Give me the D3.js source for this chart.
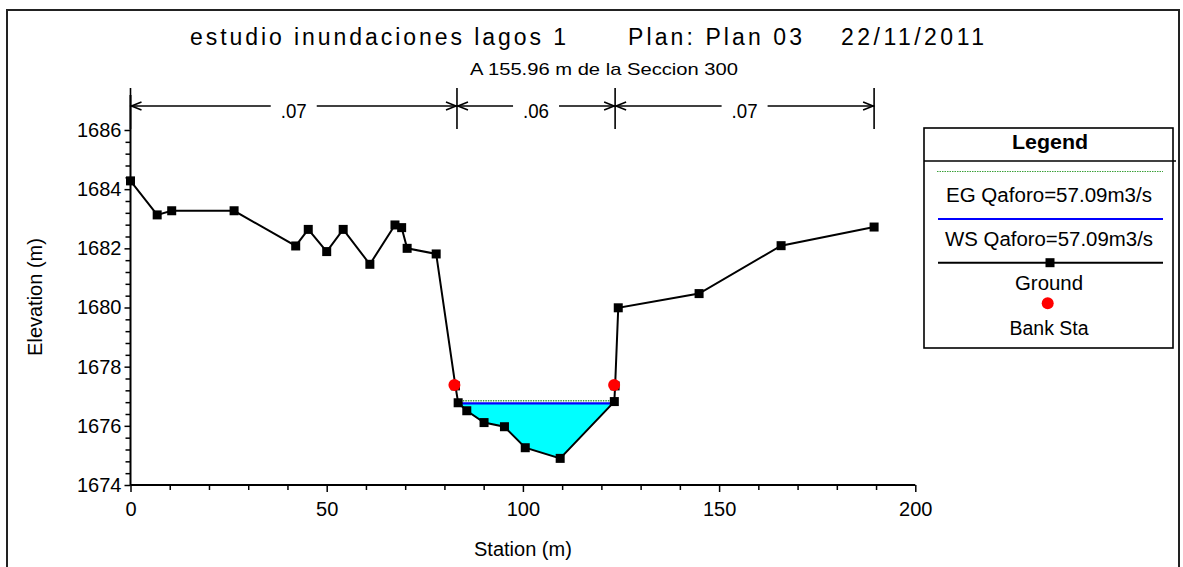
<!DOCTYPE html>
<html>
<head>
<meta charset="utf-8">
<script src="https://cdn.jsdelivr.net/npm/d3@7"></script>
<style>
  html, body { margin: 0; padding: 0; background: #fff; }
  svg { display: block; font-family: "Liberation Sans", Arial, sans-serif; }
</style>
</head>
<body>
<svg id="chart" width="1183" height="567"></svg>
<script>
// Cross-section ground profile (station m, elevation m)
const stations   = [0, 6.8, 10.5, 26.4, 42.1, 45.3, 50.0, 54.2, 61.0, 67.4, 69.1, 70.5, 77.9,
                    82.8, 83.5, 85.7, 90.1, 95.3, 100.6, 109.5, 123.3, 123.5, 124.3, 144.9, 165.8, 189.5];
const elevations = [1684.28, 1683.13, 1683.27, 1683.27, 1682.08, 1682.64, 1681.89, 1682.64, 1681.46,
                    1682.79, 1682.70, 1682.00, 1681.81, 1677.35, 1676.78, 1676.51, 1676.11, 1675.97,
                    1675.26, 1674.90, 1676.82, 1677.35, 1679.99, 1680.47, 1682.09, 1682.72];

// Bank stations
const bankStations = [82.8, 123.5];

// Water surface and energy grade for the profile
const wsElevation = 1676.76;
const egElevation = 1676.85;

// Manning's n regions
const nBreaks = [0, 83.2, 123.5, 189.5];
const nValues = [".07", ".06", ".07"];

// Axis ticks
const xTicks = [0, 50, 100, 150, 200];
const yTicks = [1674, 1676, 1678, 1680, 1682, 1684, 1686];

// Text
const titleParts = ["estudio inundaciones lagos 1", "Plan: Plan 03", "22/11/2011"];
const subtitle = "A 155.96 m de la Seccion 300";
const xTitle = "Station (m)";
const yTitle = "Elevation (m)";
const legendTitle = "Legend";
const legendLabels = ["EG Qaforo=57.09m3/s", "WS Qaforo=57.09m3/s", "Ground", "Bank Sta"];

const svg = d3.select("#chart");

const x = d3.scaleLinear().domain([0, 200]).range([130.5, 915.3]);
const y = d3.scaleLinear().domain([1674, 1686]).range([485, 130]);

// outer frame
const frame = svg.append("g").attr("stroke", "#222").attr("stroke-width", 2).attr("fill", "none");
frame.append("path").attr("d", "M7,567V10H1179V567");

// titles
const titleBox = [[190, 566], [628, 802], [841, 984]];
titleParts.forEach((t, i) => {
  svg.append("text")
    .attr("x", titleBox[i][0]).attr("y", 45)
    .attr("font-size", 23)
    .attr("textLength", titleBox[i][1] - titleBox[i][0])
    .attr("lengthAdjust", "spacing")
    .attr("fill", "#000")
    .text(t);
});
svg.append("text")
  .attr("x", 470).attr("y", 75)
  .attr("font-size", 17)
  .attr("textLength", 268)
  .attr("lengthAdjust", "spacingAndGlyphs")
  .text(subtitle);

// axes
const axisColor = "#000";
const yMinor = d3.range(0, 30).map(k => 1674 + k * 0.4).filter(v => v <= 1686.01 && !yTicks.some(t => Math.abs(t - v) < 1e-6));
const xMinor = d3.range(0, 21).map(k => k * 10).filter(v => !xTicks.includes(v));

const gy = svg.append("g").attr("transform", `translate(${x(0)},0)`);
gy.call(d3.axisLeft(y).tickValues(yTicks).tickSize(6).tickPadding(3).tickFormat(d3.format("d")));
gy.select(".domain").remove();
gy.selectAll(".tick line").attr("stroke", axisColor).attr("stroke-width", 1.5);
gy.selectAll(".tick text").attr("font-size", 20).attr("font-family", "Liberation Sans, Arial, sans-serif").attr("fill", "#000");
const gyMinor = svg.append("g").attr("transform", `translate(${x(0)},0)`);
gyMinor.call(d3.axisLeft(y).tickValues(yMinor).tickSize(5).tickFormat(""));
gyMinor.select(".domain").remove();
gyMinor.selectAll(".tick line").attr("stroke", axisColor).attr("stroke-width", 1.5);

const gx = svg.append("g").attr("transform", `translate(0,${y(1674)})`);
gx.call(d3.axisBottom(x).tickValues(xTicks).tickSize(7).tickPadding(10).tickFormat(d3.format("d")));
gx.select(".domain").remove();
gx.selectAll(".tick line").attr("stroke", axisColor).attr("stroke-width", 1.5);
gx.selectAll(".tick text").attr("font-size", 20).attr("font-family", "Liberation Sans, Arial, sans-serif").attr("fill", "#000");
const gxMinor = svg.append("g").attr("transform", `translate(0,${y(1674)})`);
gxMinor.call(d3.axisBottom(x).tickValues(xMinor).tickSize(5).tickFormat(""));
gxMinor.select(".domain").remove();
gxMinor.selectAll(".tick line").attr("stroke", axisColor).attr("stroke-width", 1.5);

// axis lines
svg.append("line").attr("x1", x(0)).attr("x2", x(0)).attr("y1", 95).attr("y2", y(1674))
  .attr("stroke", axisColor).attr("stroke-width", 2);
svg.append("line").attr("x1", x(0)).attr("x2", x(200)).attr("y1", y(1674)).attr("y2", y(1674))
  .attr("stroke", axisColor).attr("stroke-width", 2);

// axis titles
svg.append("text").attr("x", (x(0) + x(200)) / 2).attr("y", 556)
  .attr("text-anchor", "middle").attr("font-size", 20).text(xTitle);
svg.append("text").attr("transform", "translate(42,297) rotate(-90)")
  .attr("text-anchor", "middle").attr("font-size", 20).text(yTitle);

// Manning's n region markers
const nY = 106;
const nG = svg.append("g").attr("stroke", "#000").attr("stroke-width", 1.6).attr("fill", "none");
nBreaks.forEach(s => {
  nG.append("line").attr("x1", x(s)).attr("x2", x(s)).attr("y1", 88).attr("y2", 129);
});
nValues.forEach((label, i) => {
  const a = x(nBreaks[i]), b = x(nBreaks[i + 1]), m = (a + b) / 2;
  const t = svg.append("text").attr("x", m).attr("y", 118).attr("text-anchor", "middle")
    .attr("font-size", 20).attr("textLength", 26).attr("lengthAdjust", "spacingAndGlyphs").text(label);
  const half = 13 + 10;
  nG.append("line").attr("x1", a).attr("x2", m - half).attr("y1", nY).attr("y2", nY);
  nG.append("line").attr("x1", m + half).attr("x2", b).attr("y1", nY).attr("y2", nY);
  nG.append("path").attr("d", `M${a + 11},${nY - 4}L${a + 1},${nY}L${a + 11},${nY + 4}`);
  nG.append("path").attr("d", `M${b - 11},${nY - 4}L${b - 1},${nY}L${b - 11},${nY + 4}`);
});

// wetted area below the water surface
function wetPolygon(sta, elev, ws) {
  const iMin = d3.minIndex(elev);
  let L = iMin; while (L > 0 && elev[L - 1] < ws) L--;
  let R = iMin; while (R < sta.length - 1 && elev[R + 1] < ws) R++;
  const cross = (i, j) => sta[i] + (ws - elev[i]) / (elev[j] - elev[i]) * (sta[j] - sta[i]);
  const pts = [[cross(L - 1, L), ws]];
  for (let k = L; k <= R; k++) pts.push([sta[k], elev[k]]);
  pts.push([cross(R, R + 1), ws]);
  return pts;
}
const wet = wetPolygon(stations, elevations, wsElevation);
svg.append("path")
  .attr("d", d3.line().x(d => x(d[0])).y(d => y(d[1]))(wet) + "Z")
  .attr("fill", "#00FFFF").attr("stroke", "none");

// energy grade line
const egPts = wetPolygon(stations, elevations, egElevation);
svg.append("line")
  .attr("x1", x(egPts[0][0])).attr("x2", x(egPts[egPts.length - 1][0]))
  .attr("y1", y(egElevation)).attr("y2", y(egElevation))
  .attr("stroke", "#3aa03a").attr("stroke-width", 1.5).attr("stroke-dasharray", "1.5,1");

// water surface line
svg.append("line")
  .attr("x1", x(wet[0][0])).attr("x2", x(wet[wet.length - 1][0]))
  .attr("y1", y(wsElevation)).attr("y2", y(wsElevation))
  .attr("stroke", "#0000FF").attr("stroke-width", 2.2);

// ground line with markers
const ground = stations.map((s, i) => [s, elevations[i]]);
svg.append("path")
  .attr("d", d3.line().x(d => x(d[0])).y(d => y(d[1]))(ground))
  .attr("fill", "none").attr("stroke", "#000").attr("stroke-width", 2);
svg.append("g").selectAll("rect").data(ground).join("rect")
  .attr("x", d => x(d[0]) - 4.5).attr("y", d => y(d[1]) - 4.5)
  .attr("width", 9).attr("height", 9).attr("fill", "#000");

// bank stations
const bankPts = bankStations.map(s => [s, elevations[stations.indexOf(s)]]);
svg.append("g").selectAll("circle").data(bankPts).join("circle")
  .attr("cx", d => x(d[0]) - 1).attr("cy", d => y(d[1]) - 1)
  .attr("r", 6).attr("fill", "#FF0000");

// legend
const lg = svg.append("g");
lg.append("rect").attr("x", 924).attr("y", 128).attr("width", 249).attr("height", 220)
  .attr("fill", "#fff").attr("stroke", "#000").attr("stroke-width", 1.6);
lg.append("line").attr("x1", 924).attr("x2", 1176).attr("y1", 161).attr("y2", 161)
  .attr("stroke", "#000").attr("stroke-width", 1.6);
lg.append("text").attr("x", 1050).attr("y", 149).attr("text-anchor", "middle")
  .attr("font-size", 20).attr("font-weight", "bold")
  .attr("textLength", 76).attr("lengthAdjust", "spacingAndGlyphs").text(legendTitle);

lg.append("line").attr("x1", 937).attr("x2", 1163).attr("y1", 171.5).attr("y2", 171.5)
  .attr("stroke", "#3aa03a").attr("stroke-width", 1.2).attr("stroke-dasharray", "1.5,1");
lg.append("line").attr("x1", 938).attr("x2", 1163).attr("y1", 219).attr("y2", 219)
  .attr("stroke", "#0000FF").attr("stroke-width", 2);
lg.append("line").attr("x1", 938).attr("x2", 1163).attr("y1", 262.7).attr("y2", 262.7)
  .attr("stroke", "#000").attr("stroke-width", 2);
lg.append("rect").attr("x", 1050 - 4.5).attr("y", 262.7 - 4.5).attr("width", 9).attr("height", 9).attr("fill", "#000");
lg.append("circle").attr("cx", 1047.7).attr("cy", 303.3).attr("r", 6).attr("fill", "#FF0000");

const legendText = [
  { y: 202, w: 206 },
  { y: 246, w: 208 },
  { y: 290, w: 68 },
  { y: 335, w: 79 }
];
legendLabels.forEach((t, i) => {
  lg.append("text").attr("x", 1049).attr("y", legendText[i].y).attr("text-anchor", "middle")
    .attr("font-size", 20).attr("textLength", legendText[i].w)
    .attr("lengthAdjust", "spacingAndGlyphs").text(t);
});
</script>
</body>
</html>
